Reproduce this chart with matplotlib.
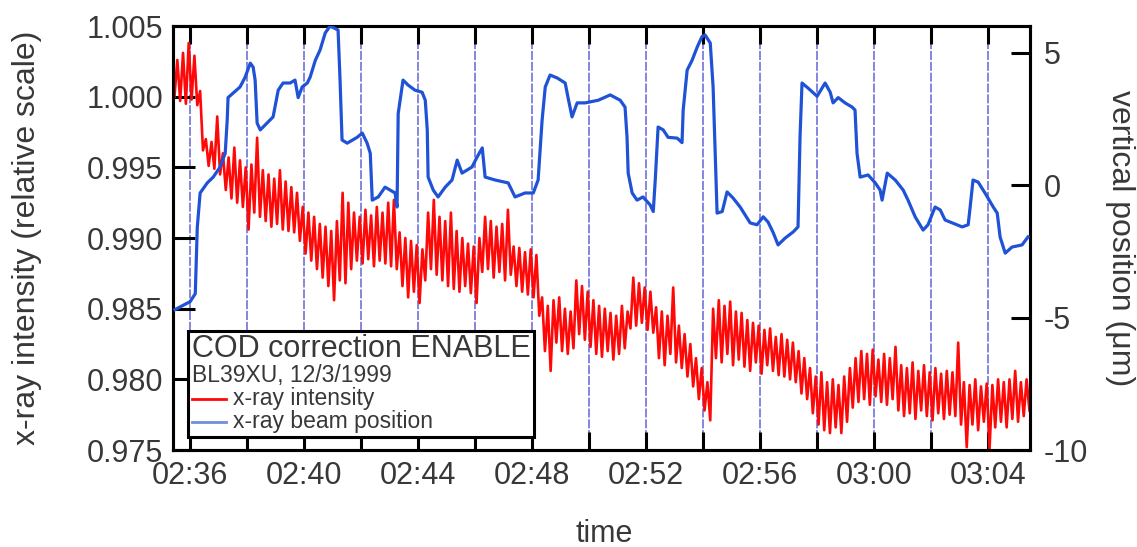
import numpy as np
import matplotlib
matplotlib.use('Agg')
import matplotlib.pyplot as plt
from matplotlib.lines import Line2D
from matplotlib.offsetbox import AnchoredOffsetbox, VPacker, HPacker, TextArea, DrawingArea
from matplotlib import patheffects

plt.rcParams['font.family'] = ['Liberation Sans', 'DejaVu Sans']
plt.rcParams['axes.unicode_minus'] = False

# time in minutes after 02:00
tick_minutes = [36, 38, 40, 42, 44, 46, 48, 50, 52, 54, 56, 58, 60, 62, 64]
tick_labels = ['02:36', '', '02:40', '', '02:44', '', '02:48', '', '02:52', '',
               '02:56', '', '03:00', '', '03:04']
intensity_ticks = [0.975, 0.980, 0.985, 0.990, 0.995, 1.000, 1.005]
position_ticks = [-10, -5, 0, 5]

# x-ray intensity (uniform sampling, 0.1 min)
red_intensity = [
    1.0000, 1.0026, 0.9997, 1.0031, 0.9995, 1.0038, 0.9998, 1.0029, 0.9994, 1.0004,
    0.9962, 0.9970, 0.9951, 0.9968, 0.9949, 0.9986, 0.9945, 0.9960, 0.9934, 0.9957,
    0.9928, 0.9964, 0.9925, 0.9955, 0.9922, 0.9950, 0.9906, 0.9952, 0.9918, 0.9971,
    0.9915, 0.9948, 0.9912, 0.9945, 0.9908, 0.9942, 0.9910, 0.9948, 0.9906, 0.9940,
    0.9905, 0.9936, 0.9904, 0.9932, 0.9898, 0.9922, 0.9889, 0.9918, 0.9884, 0.9915,
    0.9878, 0.9910, 0.9872, 0.9908, 0.9866, 0.9905, 0.9856, 0.9912, 0.9870, 0.9932,
    0.9868, 0.9925, 0.9878, 0.9918, 0.9884, 0.9915, 0.9882, 0.9920, 0.9885, 0.9916,
    0.9880, 0.9922, 0.9884, 0.9918, 0.9882, 0.9925, 0.9880, 0.9927, 0.9878, 0.9904,
    0.9866, 0.9900, 0.9858, 0.9898, 0.9862, 0.9895, 0.9854, 0.9892, 0.9870, 0.9918,
    0.9878, 0.9927, 0.9874, 0.9915, 0.9870, 0.9912, 0.9866, 0.9918, 0.9864, 0.9905,
    0.9862, 0.9900, 0.9866, 0.9896, 0.9861, 0.9894, 0.9854, 0.9900, 0.9876, 0.9915,
    0.9878, 0.9912, 0.9872, 0.9908, 0.9876, 0.9910, 0.9870, 0.9920, 0.9874, 0.9894,
    0.9866, 0.9893, 0.9862, 0.9890, 0.9860, 0.9892, 0.9858, 0.9888, 0.9845, 0.9858,
    0.9820, 0.9852, 0.9806, 0.9856, 0.9826, 0.9858, 0.9820, 0.9850, 0.9818, 0.9848,
    0.9822, 0.9870, 0.9832, 0.9866, 0.9828, 0.9862, 0.9823, 0.9856, 0.9818, 0.9852,
    0.9816, 0.9850, 0.9820, 0.9847, 0.9814, 0.9845, 0.9818, 0.9852, 0.9822, 0.9848,
    0.9836, 0.9872, 0.9838, 0.9868, 0.9840, 0.9865, 0.9835, 0.9862, 0.9833, 0.9851,
    0.9815, 0.9848, 0.9810, 0.9845, 0.9818, 0.9865, 0.9812, 0.9838, 0.9808, 0.9832,
    0.9802, 0.9825, 0.9795, 0.9815, 0.9786, 0.9808, 0.9778, 0.9798, 0.9771, 0.9850,
    0.9815, 0.9856, 0.9812, 0.9852, 0.9818, 0.9855, 0.9810, 0.9848, 0.9814, 0.9847,
    0.9809, 0.9842, 0.9806, 0.9840, 0.9812, 0.9838, 0.9804, 0.9835, 0.9810, 0.9836,
    0.9806, 0.9830, 0.9803, 0.9832, 0.9802, 0.9828, 0.9800, 0.9826, 0.9798, 0.9820,
    0.9790, 0.9815, 0.9786, 0.9808, 0.9776, 0.9802, 0.9768, 0.9805, 0.9764, 0.9798,
    0.9762, 0.9800, 0.9766, 0.9796, 0.9762, 0.9802, 0.9770, 0.9808, 0.9780, 0.9815,
    0.9784, 0.9820, 0.9786, 0.9818, 0.9782, 0.9821, 0.9788, 0.9814, 0.9784, 0.9818,
    0.9782, 0.9815, 0.9786, 0.9823, 0.9778, 0.9810, 0.9774, 0.9808, 0.9776, 0.9812,
    0.9772, 0.9806, 0.9778, 0.9810, 0.9774, 0.9805, 0.9771, 0.9808, 0.9776, 0.9804,
    0.9772, 0.9806, 0.9775, 0.9805, 0.9774, 0.9826, 0.9768, 0.9798, 0.9752, 0.9796,
    0.9768, 0.9800, 0.9764, 0.9795, 0.9770, 0.9797, 0.9751, 0.9796, 0.9766, 0.9800,
    0.9770, 0.9798, 0.9766, 0.9800, 0.9772, 0.9806, 0.9770, 0.9798, 0.9774, 0.9800,
    0.9778,
]
red_t = np.linspace(35.45, 65.45, len(red_intensity))

# x-ray beam position (um)
beam_t = [
    35.47, 36.00, 36.18, 36.25, 36.35, 36.60, 36.81, 37.05, 37.23, 37.30, 37.33, 37.51,
    37.75, 37.93, 38.11, 38.21, 38.28, 38.35, 38.46, 38.70, 38.91, 39.09, 39.26, 39.51,
    39.68, 39.79, 39.93, 40.11, 40.21, 40.39, 40.56, 40.74, 40.91, 41.19, 41.26, 41.33,
    41.51, 41.86, 42.04, 42.21, 42.32, 42.39, 42.60, 42.84, 43.19, 43.26, 43.30, 43.47,
    43.65, 43.89, 44.14, 44.25, 44.32, 44.35, 44.53, 44.70, 44.95, 45.19, 45.37, 45.54,
    45.89, 46.07, 46.25, 46.35, 46.70, 47.16, 47.40, 47.75, 48.04, 48.21, 48.35, 48.46,
    48.63, 48.88, 49.16, 49.26, 49.40, 49.58, 49.86, 50.32, 50.74, 51.09, 51.26, 51.33,
    51.37, 51.51, 51.68, 51.89, 52.14, 52.25, 52.32, 52.42, 52.60, 52.77, 53.09, 53.26,
    53.30, 53.44, 53.61, 53.79, 53.96, 54.07, 54.25, 54.35, 54.42, 54.49, 54.67, 54.84,
    55.05, 55.30, 55.65, 55.89, 56.11, 56.28, 56.46, 56.63, 56.88, 57.16, 57.33, 57.40,
    57.47, 57.68, 58.00, 58.28, 58.46, 58.56, 58.74, 58.98, 59.23, 59.33, 59.40, 59.51,
    59.79, 60.04, 60.21, 60.28, 60.46, 60.74, 61.02, 61.19, 61.44, 61.72, 61.89, 62.14,
    62.32, 62.49, 62.74, 63.09, 63.30, 63.37, 63.47, 63.65, 63.89, 64.18, 64.32, 64.42,
    64.60, 64.84, 65.19, 65.40,
]
beam_pos = [
    -4.70, -4.40, -4.10, -1.60, -0.30, 0.08, 0.30, 0.68, 1.20, 2.45, 3.30, 3.47,
    3.70, 4.07, 4.60, 4.45, 3.96, 2.34, 2.08, 2.34, 2.57, 3.58, 3.85, 3.85,
    3.96, 3.30, 3.70, 3.85, 4.07, 4.70, 5.10, 5.74, 6.00, 5.85, 3.96, 1.70,
    1.58, 1.80, 1.96, 1.58, 1.20, -0.57, -0.45, -0.08, -0.30, -0.83, 2.70, 3.96,
    3.77, 3.58, 3.50, 3.20, 2.08, 0.30, -0.19, -0.45, -0.08, 0.19, 0.94, 0.45,
    0.68, 1.06, 1.40, 0.30, 0.19, 0.08, -0.45, -0.30, -0.30, 0.19, 2.45, 3.70,
    4.15, 4.04, 3.85, 3.30, 2.57, 3.10, 3.10, 3.20, 3.40, 3.20, 2.94, 1.80,
    0.45, -0.30, -0.57, -0.45, -0.75, -1.00, 0.19, 2.19, 2.08, 1.80, 1.77, 1.60,
    2.83, 4.34, 4.70, 5.20, 5.60, 5.66, 5.36, 3.70, 1.32, -1.06, -1.00, -0.26,
    -0.49, -0.83, -1.43, -1.50, -1.20, -1.40, -1.80, -2.26, -2.00, -1.77, -1.58, 1.80,
    3.85, 3.66, 3.35, 3.85, 3.50, 3.10, 3.30, 3.10, 2.94, 2.83, 1.20, 0.30,
    0.38, 0.08, -0.19, -0.57, 0.45, 0.19, -0.19, -0.57, -1.20, -1.70, -1.50, -0.83,
    -0.94, -1.32, -1.43, -1.58, -1.50, -0.83, 0.19, 0.11, -0.30, -0.83, -1.06, -1.96,
    -2.57, -2.34, -2.26, -1.96,
]

red = '#ff0808'
blue = '#1f52d6'
txt = '#383838'

fig = plt.figure(figsize=(11.37, 5.47), dpi=100)
ax = fig.add_axes([0.1522, 0.1773, 0.7537, 0.7751])
ax2 = ax.twinx()

ax.plot(red_t, red_intensity, color=red, lw=1.9, zorder=3)
ax2.plot(beam_t, beam_pos, color=blue, lw=2.3, zorder=3)

ax.set_xlim(35.4, 65.47)
ax.set_ylim(0.975, 1.005)
ax2.set_ylim(-10, 6)

ax.set_xticks(tick_minutes)
ax.set_xticklabels(tick_labels)
ax.set_yticks(intensity_ticks)
ax.set_yticklabels([f'{v:.3f}' for v in intensity_ticks])
ax2.set_yticks(position_ticks)
ax2.set_yticklabels([str(v) for v in position_ticks])

ax.grid(axis='x', color='#7c7cdc', lw=1.3, ls=(0, (5, 1)))
ax.set_axisbelow(True)

ax.tick_params(axis='x', direction='in', length=13, width=2.2, top=True,
               labelsize=22, pad=8, labelcolor=txt)
ax.tick_params(axis='y', direction='in', length=16, width=2.2, right=False,
               labelsize=22, pad=7, labelcolor=txt)
ax2.tick_params(axis='y', direction='in', length=14, width=2.2,
                labelsize=22, pad=10, labelcolor=txt)
for a in (ax, ax2):
    for s in a.spines.values():
        s.set_linewidth(2.2)

ax.set_xlabel('time', fontsize=22, color=txt)
ax.xaxis.set_label_coords(0.503, -0.162)
ax.set_ylabel('x-ray intensity (relative scale)', fontsize=23, color=txt)
ax.yaxis.set_label_coords(-0.153, 0.5)
ax2.set_ylabel('vertical position (\u03bcm)', fontsize=23, color=txt,
               rotation=270, va='center', ha='center')
ax2.yaxis.set_label_coords(1.105, 0.5)

# legend box
def legend_row(color, label):
    da = DrawingArea(25, 10, 0, 0)
    da.add_artist(Line2D([0, 25], [5, 5], color=color, lw=2))
    return HPacker(children=[da, TextArea(label, textprops=dict(size=16.5, color=txt))],
                   align='center', pad=0, sep=5)

box_content = VPacker(children=[
    TextArea('COD correction ENABLE', textprops=dict(size=22, color=txt)),
    TextArea('BL39XU, 12/3/1999', textprops=dict(size=16.5, color=txt)),
    legend_row(red, 'x-ray intensity'),
    legend_row('#6f8fdc', 'x-ray beam position'),
], align='left', pad=0, sep=0)

box = AnchoredOffsetbox(loc='lower left', child=box_content, pad=0.25, borderpad=0,
                        frameon=True, bbox_to_anchor=(0.0175, 0.031),
                        bbox_transform=ax.transAxes)
box.patch.set_boxstyle('square', pad=0)
box.patch.set_linewidth(2.2)
box.patch.set_edgecolor('black')
box.patch.set_path_effects([patheffects.SimplePatchShadow(offset=(1.5, -1.5), shadow_rgbFace='k', alpha=1),
                            patheffects.Normal()])
box.set_zorder(10)
ax2.add_artist(box)

fig.savefig('out.png', dpi=100)
